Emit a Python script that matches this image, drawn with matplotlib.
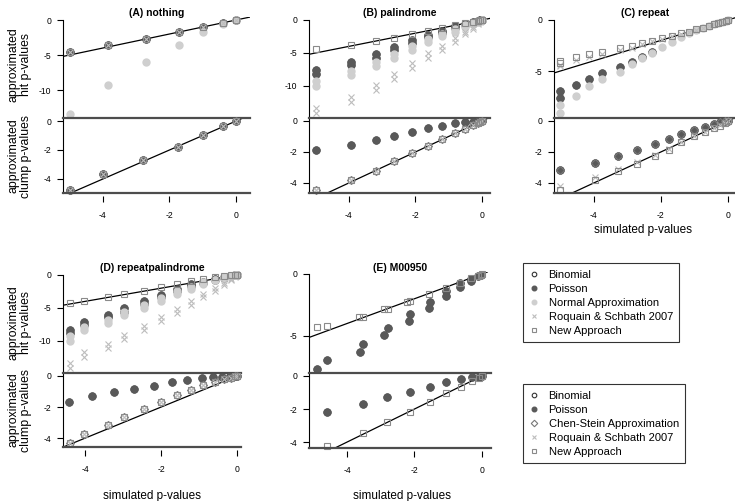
import numpy as np
import matplotlib.pyplot as plt
from matplotlib.lines import Line2D

plt.rcParams['font.family'] = ['Liberation Sans', 'DejaVu Sans']

# ---- data (log10 p-values) ----
# (A) nothing
a_x_hit = [-4.98, -3.86, -2.7, -1.7, -1.0, -0.4, 0.0]
a_hit_exact = [-4.6, -3.6, -2.7, -1.75, -1.0, -0.4, 0.0]
a_hit_normal = [-13.4, -9.3, -6.0, -3.5, -1.75, -0.5, 0.0]
a_x_clump = [-5.0, -4.0, -2.8, -1.75, -1.0, -0.38, 0.0]
a_clump_exact = [-4.76, -3.66, -2.7, -1.8, -0.97, -0.36, 0.0]

# (B) palindrome
b_x = [-5.0, -3.95, -3.2, -2.64, -2.1, -1.63, -1.2, -0.82, -0.5, -0.28, -0.13, -0.05, 0.0]
b_hit_new = [-4.4, -3.8, -3.2, -2.7, -2.1, -1.6, -1.15, -0.77, -0.5, -0.28, -0.13, -0.05, 0.0]
b_hit_poisson = [[-7.6, -8.2], [-6.3, -6.8], [-5.2, -5.7], [-4.1, -4.6], [-3.1, -3.5], [-2.3, -2.6],
                 [-1.6, -1.9], [-0.9, -1.2], [-0.55, -0.75], [-0.3, -0.4], [-0.15, -0.2], [-0.06, -0.08], [0, 0]]
b_hit_normal = [[-9.2, -10.0], [-7.7, -8.3], [-6.3, -6.9], [-5.2, -5.7], [-4.0, -4.5], [-2.9, -3.4],
                [-2.2, -2.5], [-1.4, -1.8], [-0.8, -1.1], [-0.45, -0.6], [-0.25, -0.3], [-0.1, -0.12], [0, 0]]
b_hit_roquain = [[-13.4, -14.1], [-11.6, -12.4], [-9.8, -10.6], [-8.2, -8.9], [-6.5, -7.2], [-5.0, -5.8],
                 [-3.9, -4.5], [-2.8, -3.4], [-1.8, -2.1], [-1.0, -1.3], [-0.5, -0.65], [-0.2, -0.25], [0, 0]]
b_clump_poisson = [-1.9, -1.55, -1.23, -0.95, -0.69, -0.47, -0.3, -0.15, -0.08, -0.04, -0.02, -0.01, 0.0]
b_clump_line = [-4.45, -3.8, -3.2, -2.6, -2.1, -1.6, -1.16, -0.8, -0.5, -0.28, -0.13, -0.05, 0.0]

# (C) repeat
c_x_hit = [-5.0, -5.0, -4.52, -4.16, -3.76, -3.21, -2.86, -2.56, -2.26, -1.96, -1.67, -1.41,
           -1.17, -0.94, -0.74, -0.57, -0.42, -0.29, -0.17, -0.07, 0.0]
c_hit_new = [-4.0, -4.25, -3.66, -3.37, -3.1, -2.78, -2.55, -2.29, -2.03, -1.8, -1.54, -1.31,
             -1.14, -0.92, -0.74, -0.57, -0.42, -0.29, -0.17, -0.07, 0.0]
c_hit_roquain = [-4.4, -4.5, -3.95, -3.6, -3.3, -2.95, -2.7, -2.4, -2.1, -1.85, -1.6, -1.35,
                 -1.15, -0.95, -0.75, -0.58, -0.43, -0.3, -0.17, -0.07, 0.0]
c_hit_normal = [-8.3, -9.1, -7.4, -6.5, -5.8, -5.1, -4.35, -3.7, -3.2, -2.6, -2.2, -1.7,
                -1.3, -1.0, -0.75, -0.55, -0.4, -0.28, -0.17, -0.07, 0.0]
c_x_poisson = [-5.0, -5.0, -4.52, -4.16, -3.76, -3.21, -2.86, -2.56, -2.26]
c_hit_poisson = [-7.0, -7.6, -6.4, -5.8, -5.2, -4.6, -4.1, -3.6, -3.1]
c_x_clump = [-5.0, -3.96, -3.27, -2.71, -2.19, -1.76, -1.39, -1.01, -0.69, -0.42, -0.24, -0.1, 0.0]
c_clump_poisson = [-3.16, -2.69, -2.24, -1.87, -1.48, -1.14, -0.84, -0.58, -0.37, -0.19, -0.08, -0.03, 0.0]
c_clump_new = [-4.45, -3.8, -3.25, -2.75, -2.28, -1.85, -1.38, -1.0, -0.73, -0.47, -0.3, -0.12, 0.0]
c_clump_roquain = [-4.2, -3.6, -3.1, -2.65, -2.2, -1.78, -1.33, -0.97, -0.7, -0.45, -0.28, -0.11, 0.0]

# (D) repeatpalindrome
d_x = [-4.39, -4.04, -3.41, -2.97, -2.46, -2.0, -1.59, -1.21, -0.89, -0.58, -0.34, -0.17, -0.05, 0.0]
d_hit_new = [-4.3, -3.9, -3.4, -2.9, -2.4, -1.85, -1.35, -0.95, -0.6, -0.35, -0.18, -0.08, -0.02, 0.0]
d_hit_poisson = [[-8.3, -8.8], [-7.1, -7.6], [-6.1, -6.4], [-5.0, -5.6], [-4.0, -4.4], [-3.0, -3.4], [-2.2, -2.5],
                 [-1.4, -1.7], [-1.0, -1.2], [-0.6, -0.7], [-0.3, -0.4], [-0.15, -0.2], [-0.05, -0.06], [0, 0]]
d_hit_normal = [[-9.3, -9.95], [-7.9, -8.4], [-6.8, -7.3], [-5.6, -6.1], [-4.5, -5.0], [-3.5, -3.9], [-2.5, -2.9],
                [-1.8, -2.1], [-1.1, -1.4], [-0.7, -0.8], [-0.35, -0.45], [-0.18, -0.22], [-0.06, -0.08], [0, 0]]
d_hit_roquain = [[-13.4, -14.1], [-11.7, -12.4], [-10.5, -11.1], [-9.1, -9.7], [-7.7, -8.3], [-6.3, -6.9], [-5.2, -5.7],
                 [-4.0, -4.5], [-2.9, -3.4], [-2.0, -2.4], [-1.2, -1.5], [-0.6, -0.75], [-0.2, -0.25], [0, 0]]
d_x_poisson = [-4.41, -3.82, -3.25, -2.72, -2.2, -1.71, -1.31, -0.93, -0.64, -0.4, -0.18, -0.05, 0.0]
d_clump_poisson = [-1.67, -1.31, -1.06, -0.83, -0.62, -0.42, -0.25, -0.15, -0.06, -0.04, -0.02, -0.01, 0.0]
d_clump_line = [-4.3, -3.75, -3.15, -2.65, -2.15, -1.7, -1.25, -0.9, -0.6, -0.4, -0.22, -0.1, -0.03, 0.0]

# (E) M00950
e_x_new = [-4.88, -4.6, -3.64, -3.52, -2.9, -2.8, -2.21, -2.12, -1.56, -1.07, -0.65, -0.33, -0.11, -0.04, 0.0]
e_hit_new = [-4.25, -4.17, -3.5, -3.47, -2.82, -2.8, -2.23, -2.2, -1.64, -1.16, -0.7, -0.32, -0.13, -0.08, 0.0]
e_x_poisson = [-4.88, -4.6, -3.62, -3.54, -2.9, -2.8, -2.16, -2.12, -1.57, -1.55, -1.08, -1.07,
               -0.65, -0.65, -0.33, -0.33, -0.11, -0.04]
e_hit_poisson = [-7.69, -6.99, -6.31, -5.65, -4.97, -4.38, -3.79, -3.23, -2.72, -2.23, -1.77, -1.34,
                 -1.02, -0.75, -0.54, -0.4, -0.13, -0.05]
e_x_clump = [-4.6, -3.52, -2.83, -2.14, -1.55, -1.06, -0.63, -0.3, -0.1, 0.0]
e_clump_new = [-4.22, -3.43, -2.77, -2.16, -1.56, -1.05, -0.65, -0.3, -0.1, 0.0]
e_clump_poisson = [-2.16, -1.7, -1.29, -0.95, -0.65, -0.38, -0.2, -0.08, -0.05, 0.0]

hit_labels = ['Binomial', 'Poisson', 'Normal Approximation', 'Roquain & Schbath 2007', 'New Approach']
clump_labels = ['Binomial', 'Poisson', 'Chen-Stein Approximation', 'Roquain & Schbath 2007', 'New Approach']

# ---- styles ----
DARK = '#595959'
LIGHT = '#cfcfcf'
STY = {
    'binom': dict(marker='o', mfc='none', mec='#333333', mew=0.8),
    'pois': dict(marker='o', mfc=DARK, mec=DARK),
    'norm': dict(marker='o', mfc=LIGHT, mec=LIGHT),
    'chen': dict(marker='D', mfc='none', mec='#777777', mew=0.8),
    'roq': dict(marker='x', mec='#bdbdbd', mew=0.8),
    'new': dict(marker='s', mfc='none', mec='#8a8a8a', mew=0.8),
}
SIZE = {'binom': 5, 'pois': 5, 'norm': 5, 'chen': 4.3, 'roq': 4.3, 'new': 4.5}
ORDER = ['binom', 'pois', 'norm', 'chen', 'roq', 'new']

W, H = 735, 501
fig = plt.figure(figsize=(W / 100, H / 100), dpi=100)


def box(l, t, r, b):
    return [l / W, 1 - b / H, (r - l) / W, (b - t) / H]


def flat(x, ys):
    ys = np.asarray(ys, dtype=float)
    if ys.ndim == 2:
        return np.repeat(x, ys.shape[1]), ys.ravel()
    return np.asarray(x), ys


def draw(ax, series):
    for kind in ORDER:
        for x, y in series.get(kind, []):
            xx, yy = flat(x, y)
            ax.plot(xx, yy, ls='none', ms=SIZE[kind], zorder=3, clip_on=False, **STY[kind])


def panel(title, px, xlim, hit_lim, clump_lim, hit_ticks, hit_series, clump_series):
    l, r, t, m, b = px
    ah = fig.add_axes(box(l, t, r, m))
    ac = fig.add_axes(box(l, m, r, b))
    for ax, lim in ((ah, hit_lim), (ac, clump_lim)):
        ax.set_xlim(xlim)
        ax.set_ylim(lim)
        ax.patch.set_alpha(0)
        ax.axline((0, 0), slope=1, color='black', lw=0.9, zorder=2)
        ax.spines['right'].set_visible(False)
        ax.spines['left'].set_linewidth(0.8)
        ax.tick_params(axis='y', direction='out', length=4, width=0.8, labelsize=6.2, pad=4.5)
    ah.spines['top'].set_visible(False)
    ah.spines['bottom'].set_visible(False)
    ah.spines['left'].set_bounds(hit_lim[0], 0)
    ah.set_yticks(hit_ticks, [str(v) for v in hit_ticks])
    ah.tick_params(axis='x', bottom=False, labelbottom=False)
    ac.spines['top'].set_color('#4d4d4d')
    ac.spines['top'].set_linewidth(1.6)
    ac.spines['bottom'].set_visible(False)
    ac.spines['bottom'].set_position(('outward', 2))
    ac.axhline(clump_lim[0], color='#4d4d4d', lw=1.6, clip_on=False, zorder=4)
    ac.set_yticks([-4, -2, 0], ['-4', '-2', '0'])
    ac.set_xticks([-4, -2, 0], ['-4', '-2', '0'])
    ac.tick_params(axis='x', direction='out', length=4, width=0.8, labelsize=6.2, pad=7)
    draw(ah, hit_series)
    draw(ac, clump_series)
    fig.text((l + r) / 2 / W, 1 - (t - 4) / H, title, ha='center', va='center',
             fontsize=7.5, fontweight='bold')
    return ah, ac


# (A)
panel('(A) nothing', (63, 250, 17, 118, 193), (-5.2, 0.42), (-14.0, 0.43), (-4.97, 0.21), [-10, -5, 0],
      {'binom': [(a_x_hit, a_hit_exact)], 'pois': [(a_x_hit, a_hit_exact)], 'norm': [(a_x_hit, a_hit_normal)],
       'roq': [(a_x_hit, a_hit_exact)], 'new': [(a_x_hit, a_hit_exact)]},
      {'binom': [(a_x_clump, a_clump_exact)], 'pois': [(a_x_clump, a_clump_exact)],
       'chen': [(a_x_clump, a_clump_exact)], 'roq': [(a_x_clump, a_clump_exact)],
       'new': [(a_x_clump, a_clump_exact)]})

# (B)
panel('(B) palindrome', (309, 490, 17, 118, 193), (-5.2, 0.24), (-14.85, 0.45), (-4.65, 0.19), [-10, -5, 0],
      {'binom': [(b_x, b_hit_poisson)], 'pois': [(b_x, b_hit_poisson)], 'norm': [(b_x, b_hit_normal)],
       'roq': [(b_x, b_hit_roquain)], 'new': [(b_x, b_hit_new)]},
      {'binom': [(b_x, b_clump_poisson)], 'pois': [(b_x, b_clump_poisson)], 'chen': [(b_x, b_clump_line)],
       'roq': [(b_x, b_clump_line)], 'new': [(b_x, b_clump_line)]})

# (C)
panel('(C) repeat', (554, 736, 17, 118, 193), (-5.19, 0.24), (-9.6, 0.29), (-4.65, 0.19), [-5, 0],
      {'binom': [(c_x_poisson, c_hit_poisson)], 'pois': [(c_x_poisson, c_hit_poisson)],
       'norm': [(c_x_hit, c_hit_normal)], 'roq': [(c_x_hit, c_hit_roquain)], 'new': [(c_x_hit, c_hit_new)]},
      {'binom': [(c_x_clump, c_clump_poisson)], 'pois': [(c_x_clump, c_clump_poisson)],
       'chen': [(c_x_clump, c_clump_poisson)], 'roq': [(c_x_clump, c_clump_roquain)],
       'new': [(c_x_clump, c_clump_new)]})

# (D)
panel('(D) repeatpalindrome', (63, 241, 272, 373, 447), (-4.58, 0.1), (-14.85, 0.45), (-4.57, 0.19), [-10, -5, 0],
      {'binom': [(d_x, d_hit_poisson)], 'pois': [(d_x, d_hit_poisson)], 'norm': [(d_x, d_hit_normal)],
       'roq': [(d_x, d_hit_roquain)], 'new': [(d_x, d_hit_new)]},
      {'binom': [(d_x_poisson, d_clump_poisson)], 'pois': [(d_x_poisson, d_clump_poisson)],
       'chen': [(d_x, d_clump_line)], 'roq': [(d_x, d_clump_line)], 'new': [(d_x, d_clump_line)]})

# (E)
panel('(E) M00950', (309, 491, 272, 373, 448), (-5.13, 0.27), (-8.0, 0.16), (-4.36, 0.18), [-5, 0],
      {'binom': [(e_x_poisson, e_hit_poisson)], 'pois': [(e_x_poisson, e_hit_poisson)],
       'new': [(e_x_new, e_hit_new)]},
      {'binom': [(e_x_clump, e_clump_poisson)], 'pois': [(e_x_clump, e_clump_poisson)],
       'new': [(e_x_clump, e_clump_new)]})

# axis labels
for yc in (65, 156, 323, 410):
    lab = 'approximated\nhit p-values' if yc in (65, 323) else 'approximated\nclump p-values'
    fig.text(20 / W, 1 - yc / H, lab, rotation=90, ha='center', va='center', fontsize=8.8, linespacing=1.05)
for xc, yc in ((643, 230), (152, 496), (402, 496)):
    fig.text(xc / W, 1 - yc / H, 'simulated p-values', ha='center', va='center', fontsize=8.5)


# legends
def legend(keys, labels, top):
    handles = [Line2D([], [], ls='none', ms=3.3, **STY[k]) for k in keys]
    leg = fig.legend(handles, labels, loc='upper left', bbox_to_anchor=(523 / W, 1 - top / H),
                     frameon=True, fancybox=False, edgecolor='black', fontsize=8,
                     handlelength=0.8, handletextpad=0.9, borderpad=0.6, labelspacing=0.36,
                     borderaxespad=0)
    leg.get_frame().set_linewidth(0.8)


legend(['binom', 'pois', 'norm', 'roq', 'new'], hit_labels, 263)
legend(['binom', 'pois', 'chen', 'roq', 'new'], clump_labels, 384)

fig.savefig('out.png', dpi=100)
